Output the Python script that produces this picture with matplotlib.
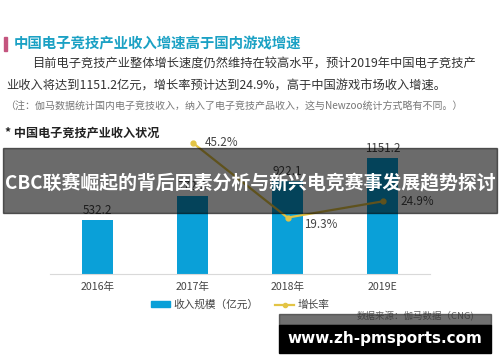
import numpy as np
import matplotlib
matplotlib.use('Agg')
import matplotlib.pyplot as plt
from matplotlib.patches import Rectangle, Patch
from matplotlib.lines import Line2D

plt.rcParams['font.family'] = ['Noto Sans CJK SC', 'DejaVu Sans']

# data
years = ['2016年', '2017年', '2018年', '2019E']
revenue = [532.2, 772.8, 922.1, 1151.2]      # 收入规模（亿元）
growth = [None, 45.2, 19.3, 24.9]            # 增长率 %
revenue_labels = ['532.2', '772.8', '922.1', '1151.2']
growth_labels = ['', '45.2%', '19.3%', '24.9%']

W, H = 500, 362
fig = plt.figure(figsize=(W / 100, H / 100), dpi=100)
fig.patch.set_facecolor('white')


def fx(x):
    return x / W


def fy(y):
    # y measured from the top in pixels
    return 1 - y / H


# header texts
fig.patches.append(Rectangle((fx(4), fy(51)), fx(3), 14 / H, transform=fig.transFigure,
                             color='#c4557f', zorder=2))
fig.text(fx(14), fy(44), '中国电子竞技产业收入增速高于国内游戏增速', fontsize=10.4,
         color='#1ba1c4', fontweight='bold', va='center', ha='left')
fig.text(fx(32), fy(64), '目前电子竞技产业整体增长速度仍然维持在较高水平，预计2019年中国电子竞技产',
         fontsize=8.8, color='#333333', va='center', ha='left')
fig.text(fx(6), fy(86), '业收入将达到1151.2亿元，增长率预计达到24.9%，高于中国游戏市场收入增速。',
         fontsize=8.8, color='#333333', va='center', ha='left')
fig.text(fx(5), fy(106), '（注：伽马数据统计国内电子竞技收入，纳入了电子竞技产品收入，这与Newzoo统计方式略有不同。）',
         fontsize=7.2, color='#777777', va='center', ha='left')
fig.text(fx(5), fy(133), '* 中国电子竞技产业收入状况', fontsize=8.7, color='#222222',
         fontweight='bold', va='center', ha='left')

# chart area
ax = fig.add_axes([fx(50), 88.5 / H, 380 / W, 133.5 / H])
x = np.arange(len(years))
ax.bar(x, revenue, width=0.32, color='#0aa0d8', zorder=2)
ax.set_xlim(-0.5, 3.5)
ax.set_ylim(0, 1335)
for s in ['top', 'right', 'left']:
    ax.spines[s].set_visible(False)
ax.spines['bottom'].set_color('#d9d9d9')
ax.set_yticks([])
ax.set_xticks(x)
ax.set_xticklabels(years, fontsize=7.6, color='#444444')
ax.tick_params(axis='x', length=0, pad=6)
for xi, v, lab in zip(x, revenue, revenue_labels):
    ax.annotate(lab, (xi, v), xytext=(0, 2.5), textcoords='offset points',
                ha='center', va='bottom', fontsize=8.4, color='#444444')

ax2 = ax.twinx()
ax2.set_ylim(0, 46.1)
ax2.axis('off')
gx = [xi for xi, g in zip(x, growth) if g is not None]
gy = [g for g in growth if g is not None]
ax2.plot(gx, gy, color='#e3c445', lw=1.6, marker='o', ms=3.5, zorder=3, clip_on=False)
offsets = [(0, 0), (9, 0), (12, -5), (13, 0)]
for xi, g, lab, off in zip(x, growth, growth_labels, offsets):
    if g is None:
        continue
    ax2.annotate(lab, (xi, g), xytext=off, textcoords='offset points',
                 ha='left', va='center', fontsize=8.4, color='#444444')

# legend
handles = [Patch(color='#0aa0d8', label='收入规模（亿元）'),
           Line2D([], [], color='#e3c445', lw=1.6, marker='o', ms=3, label='增长率')]
fig.legend(handles=handles, loc='center', bbox_to_anchor=(fx(240), fy(305)), ncol=2,
           frameon=False, fontsize=7.7, handlelength=1.8, handleheight=0.5,
           columnspacing=1.6, handletextpad=0.3, labelcolor='#444444')

fig.text(fx(474), fy(316), '数据来源：伽马数据（CNG)', fontsize=6.8, color='#666666',
         ha='right', va='center')

# overlay banner
fig.patches.append(Rectangle((fx(3), fy(213)), 494 / W, 65 / H, transform=fig.transFigure,
                             color='black', alpha=0.58, zorder=5))
fig.text(fx(250), fy(183), 'CBC联赛崛起的背后因素分析与新兴电竞赛事发展趋势探讨', fontsize=13.6,
         color='white', fontweight='bold', ha='center', va='center', zorder=6)

# watermark box
fig.patches.append(Rectangle((fx(279), fy(325)), 212 / W, 11 / H, transform=fig.transFigure,
                             color='#333333', alpha=0.7, zorder=5))
fig.patches.append(Rectangle((fx(279), fy(353)), 212 / W, 28 / H, transform=fig.transFigure,
                             color='black', zorder=5))
fig.text(fx(385), fy(338), 'www.zh-pmsports.com', fontsize=11, color='white',
         fontweight='bold', ha='center', va='center', zorder=6, family='DejaVu Sans')

fig.savefig('out.png', dpi=100)
